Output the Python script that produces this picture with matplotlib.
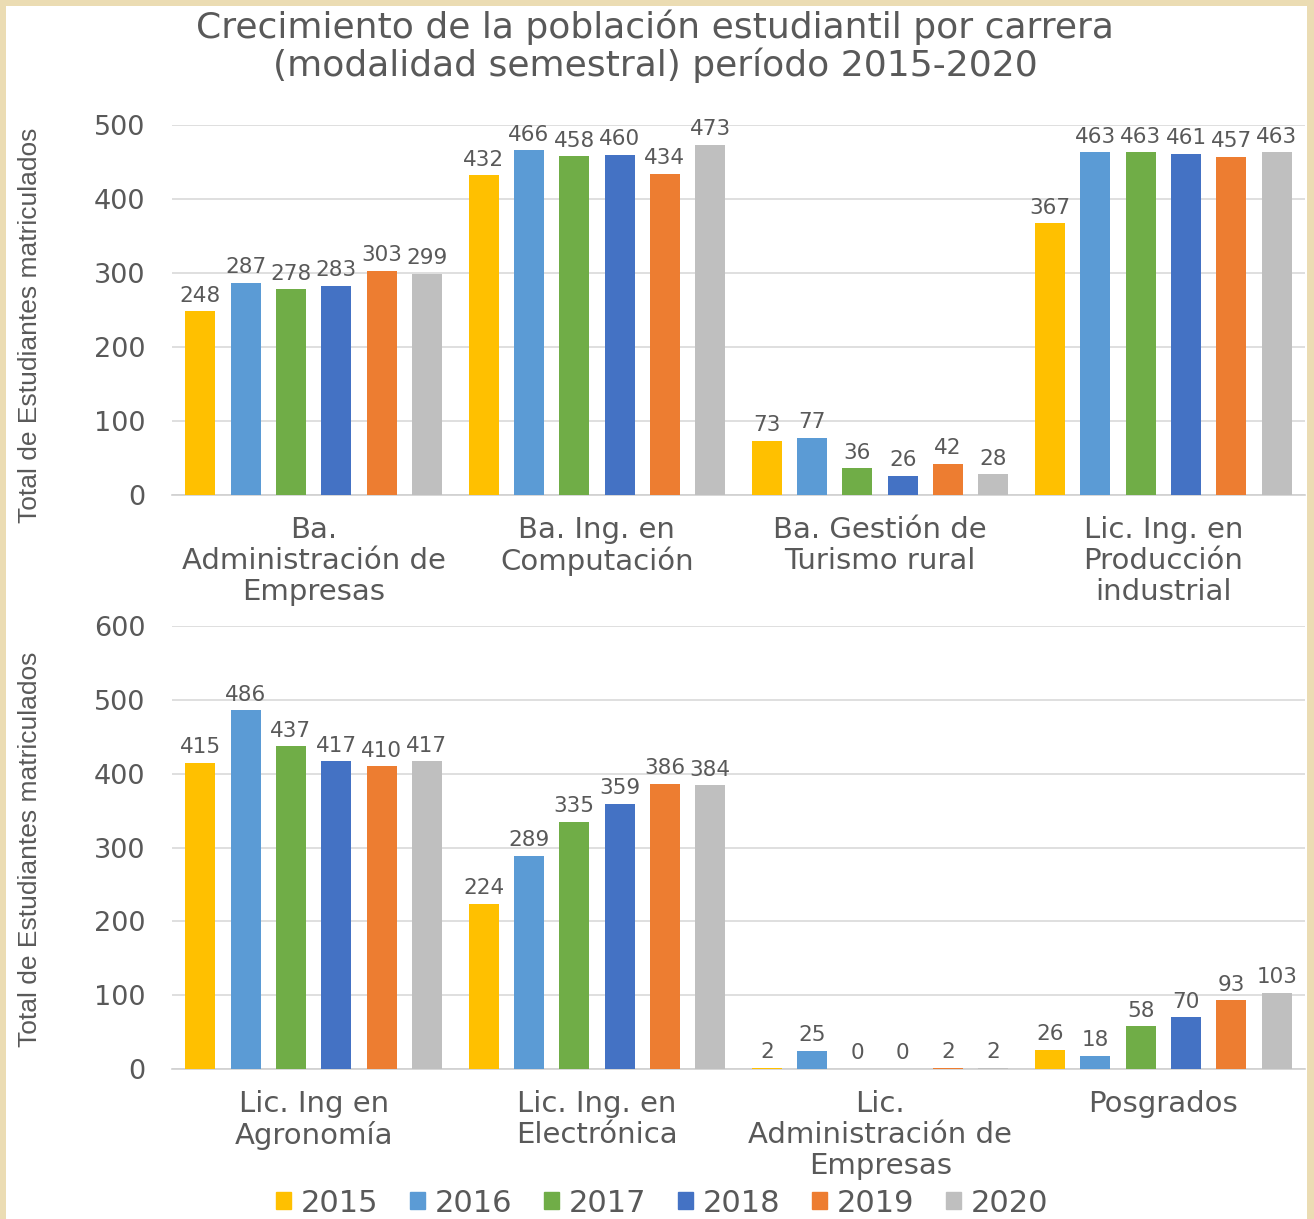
import matplotlib
matplotlib.use("Agg")
import matplotlib.pyplot as plt
from matplotlib.patches import Rectangle
import numpy as np

plt.rcParams['font.family'] = ['DejaVu Sans']

years = ['2015', '2016', '2017', '2018', '2019', '2020']
colors = ['#FFC000', '#5B9BD5', '#70AD47', '#4472C4', '#ED7D31', '#BFBFBF']

top_categories = ['Ba.\nAdministración de\nEmpresas', 'Ba. Ing. en\nComputación',
                  'Ba. Gestión de\nTurismo rural', 'Lic. Ing. en\nProducción\nindustrial']
top_values = {
    '2015': [248, 432, 73, 367],
    '2016': [287, 466, 77, 463],
    '2017': [278, 458, 36, 463],
    '2018': [283, 460, 26, 461],
    '2019': [303, 434, 42, 457],
    '2020': [299, 473, 28, 463],
}

bottom_categories = ['Lic. Ing en\nAgronomía', 'Lic. Ing. en\nElectrónica',
                     'Lic.\nAdministración de\nEmpresas', 'Posgrados']
bottom_values = {
    '2015': [415, 224, 2, 26],
    '2016': [486, 289, 25, 18],
    '2017': [437, 335, 0, 58],
    '2018': [417, 359, 0, 70],
    '2019': [410, 386, 2, 93],
    '2020': [417, 384, 2, 103],
}

title = 'Crecimiento de la población estudiantil por carrera\n(modalidad semestral) período 2015-2020'
ylabel = 'Total de Estudiantes matriculados'

W, H = 1314, 1219
fig = plt.figure(figsize=(W / 100, H / 100), dpi=100)
fig.patch.set_facecolor('#EBDCB3')
bg = Rectangle((6 / W, 0), (1307 - 6) / W, 1 - 6 / H,
               transform=fig.transFigure, facecolor='white',
               edgecolor='none', zorder=-10)
fig.patches.append(bg)

text_color = '#595959'
grid_color = '#D9D9D9'

def draw(ax, cats, vals, ymax):
    x = np.arange(len(cats))
    step = 0.160
    width = 0.106
    for i, yr in enumerate(years):
        off = (i - 2.5) * step
        bars = ax.bar(x + off, vals[yr], width=width, color=colors[i], zorder=3)
        ax.bar_label(bars, labels=[str(v) for v in vals[yr]], padding=4,
                     fontsize=15.5, color=text_color)
    ax.set_xlim(-0.5, len(cats) - 0.5)
    ax.set_ylim(0, ymax)
    ax.set_yticks(np.arange(0, ymax + 1, 100))
    ax.set_xticks(x)
    ax.set_xticklabels(cats, fontsize=21, color=text_color, linespacing=1.13)
    ax.tick_params(axis='both', length=0, labelcolor=text_color)
    ax.tick_params(axis='y', pad=19, labelsize=19.5)
    ax.tick_params(axis='x', pad=15)
    ax.grid(axis='y', color=grid_color, linewidth=1.2, zorder=0)
    for s in ['top', 'right', 'left']:
        ax.spines[s].set_visible(False)
    ax.spines['bottom'].set_color('#D0D0D0')
    ax.spines['bottom'].set_linewidth(1.2)
    ax.set_facecolor('none')

ax1 = fig.add_axes([172 / W, 1 - 495 / H, (1305 - 172) / W, 370 / H])
draw(ax1, top_categories, top_values, 500)
ax2 = fig.add_axes([172 / W, 1 - 1069 / H, (1305 - 172) / W, 443 / H])
draw(ax2, bottom_categories, bottom_values, 600)

for yc in [325, 849]:
    fig.text(30 / W, 1 - yc / H, ylabel, rotation=90, ha='center', va='center',
             fontsize=19, color=text_color,
             family=['Liberation Sans', 'DejaVu Sans'])

fig.text(655 / W, 1 - 46 / H, title, ha='center', va='center', fontsize=26,
         color=text_color, linespacing=1.08)

handles = [Rectangle((0, 0), 1, 1, color=c) for c in colors]
fig.legend(handles, years, loc='center', bbox_to_anchor=(662 / W, 1 - 1203 / H),
           ncol=6, frameon=False, fontsize=22, labelcolor=text_color,
           handlelength=0.5, handleheight=0.5, handletextpad=0.3, columnspacing=1.05)

fig.savefig('out.png', dpi=100, facecolor=fig.get_facecolor())
